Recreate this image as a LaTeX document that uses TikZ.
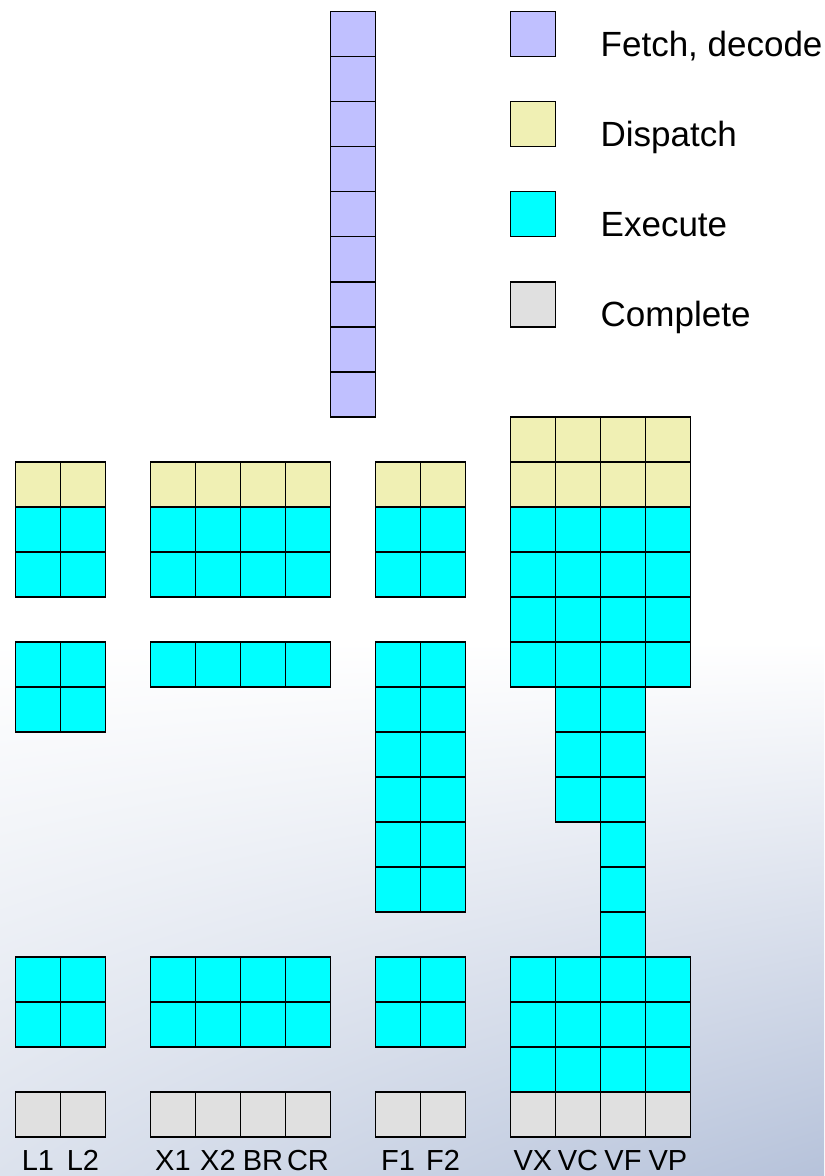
\documentclass[tikz,border=0pt]{standalone}
\usepackage{fontspec}
\setmainfont{Liberation Sans}
\usetikzlibrary{positioning, shadings}

\definecolor{fetchblue}{RGB}{192,192,255}
\definecolor{dispyellow}{RGB}{240,240,180}
\definecolor{execcyan}{RGB}{0,255,255}
\definecolor{donegrey}{RGB}{224,224,224}
\definecolor{bgleft}{RGB}{220,226,237}
\definecolor{bgright}{RGB}{182,194,218}

\tikzset{
  cell/.style={draw=black, line width=1.6pt, line join=miter},
  fetchcell/.style={cell, fill=fetchblue},
  dispcell/.style={cell, fill=dispyellow},
  execcell/.style={cell, fill=execcyan},
  donecell/.style={cell, fill=donegrey},
  unitlabel/.style={anchor=base, inner sep=0pt, font=\fontsize{29}{34}\selectfont},
  legendtext/.style={anchor=base west, inner sep=0pt, font=\fontsize{35}{42}\selectfont}
}

\begin{document}
\begin{tikzpicture}[x=45pt,y=-45pt]

% --- Sfondo
\useasboundingbox (-0.344,-9.26) rectangle (17.967,16.873);
\fill[white] (-0.344,-9.26) rectangle (17.967,5);
\shade[upper left=white, upper right=white, lower left=bgleft, lower right=bgright]
  (-0.344,5) rectangle (17.967,16.873);

% Colonne delle unita
\def\lcols{0,1}
\def\xcols{3,4,5,6}
\def\fcols{8,9}
\def\vcols{11,12,13,14}
\def\ybase{16.74}

% --- Fetch, decode
\foreach \r in {-9,...,-1}
  \draw[fetchcell] (7,\r) rectangle ++(1,1);

% --- Dispatch
\foreach \c in {11,...,14}
  \foreach \r in {0,1}
    \draw[dispcell] (\c,\r) rectangle ++(1,1);
\foreach \c in {0,1,3,4,5,6,8,9}
  \draw[dispcell] (\c,1) rectangle ++(1,1);

% --- Execute: primo blocco
\foreach \c in {0,1,3,4,5,6,8,9}
  \foreach \r in {2,3}
    \draw[execcell] (\c,\r) rectangle ++(1,1);
\foreach \c in {11,...,14}
  \foreach \r in {2,...,5}
    \draw[execcell] (\c,\r) rectangle ++(1,1);

% --- Execute: latenze
\foreach \c in \lcols
  \foreach \r in {5,6}
    \draw[execcell] (\c,\r) rectangle ++(1,1);
\foreach \c in \xcols
  \draw[execcell] (\c,5) rectangle ++(1,1);
\foreach \c in \fcols
  \foreach \r in {5,...,10}
    \draw[execcell] (\c,\r) rectangle ++(1,1);
\foreach \c in {12,13}
  \foreach \r in {6,7,8}
    \draw[execcell] (\c,\r) rectangle ++(1,1);
\foreach \r in {9,10,11}
  \draw[execcell] (13,\r) rectangle ++(1,1);

% --- Execute: ultimo blocco
\foreach \c in {0,1,3,4,5,6,8,9}
  \foreach \r in {12,13}
    \draw[execcell] (\c,\r) rectangle ++(1,1);
\foreach \c in \vcols
  \foreach \r in {12,13,14}
    \draw[execcell] (\c,\r) rectangle ++(1,1);

% --- Complete
\foreach \c in {0,1,3,4,5,6,8,9,11,12,13,14}
  \draw[donecell] (\c,15) rectangle ++(1,1);

% --- Etichette delle unita
\foreach \c/\t in {0/L1,1/L2,3/X1,4/X2,5/BR,6/CR,8/F1,9/F2,11/VX,12/VC,13/VF,14/VP}
  \node[unitlabel] (lab\t) at (\c+0.5,\ybase) {\t};

% --- Legenda
\draw[fetchcell] (11,-9) rectangle ++(1,1);
\draw[dispcell]  (11,-7) rectangle ++(1,1);
\draw[execcell]  (11,-5) rectangle ++(1,1);
\draw[donecell]  (11,-3) rectangle ++(1,1);
\node[legendtext] (legfetch) at (13,-8.0) {Fetch, decode};
\node[legendtext] (legdisp)  at (13,-6.0) {Dispatch};
\node[legendtext] (legexec)  at (13,-4.0) {Execute};
\node[legendtext] (legdone)  at (13,-2.0) {Complete};

\end{tikzpicture}
\end{document}
